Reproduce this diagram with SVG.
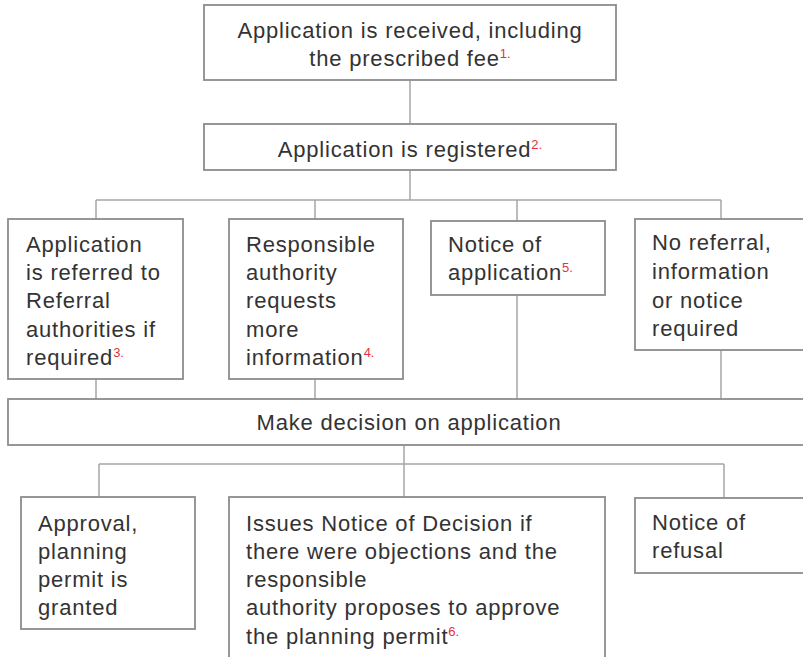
<svg xmlns="http://www.w3.org/2000/svg" width="803" height="657" viewBox="0 0 803 657">
<style>
.box{fill:#fff;stroke:#8c8c8c;stroke-width:1.8}
.ln{fill:none;stroke:#a6a6a6;stroke-width:1.5}
text{font-family:"Liberation Sans","DejaVu Sans",sans-serif;font-size:22px;letter-spacing:0.8px;fill:#333}
.c{text-anchor:middle}
.sup{font-size:13px;letter-spacing:0;fill:#e8303a}
</style>
<rect width="803" height="657" fill="#fff"/>
<g id="connectors">
<path class="ln" d="M410 80V124M410 170V200M96 200H721M96 200V219M315 200V219M517 200V221M721 200V219"/>
<path class="ln" d="M96 379V399M315 379V399M517 295V399M721 350V399"/>
<path class="ln" d="M404 445V464M99 464H724M99 464V497M404 464V497M724 464V498"/>
</g>
<g id="n1"><rect class="box" x="204" y="5" width="412" height="75"/>
<text class="c" x="410" y="38">Application is received, including</text>
<text class="c" x="410" y="66">the prescribed fee<tspan class="sup" dy="-8">1.</tspan></text></g>
<g id="n2"><rect class="box" x="204" y="124" width="412" height="46"/>
<text class="c" x="410" y="157">Application is registered<tspan class="sup" dy="-8">2.</tspan></text></g>
<g id="n3"><rect class="box" x="8" y="219" width="175" height="160"/>
<text x="26" y="252">Application</text><text x="26" y="280">is referred to</text><text x="26" y="308">Referral</text><text x="26" y="337">authorities if</text><text x="26" y="365">required<tspan class="sup" dy="-8">3.</tspan></text></g>
<g id="n4"><rect class="box" x="229" y="219" width="174" height="160"/>
<text x="246" y="252">Responsible</text><text x="246" y="280">authority</text><text x="246" y="308">requests</text><text x="246" y="337">more</text><text x="246" y="365">information<tspan class="sup" dy="-8">4.</tspan></text></g>
<g id="n5"><rect class="box" x="431" y="221" width="174" height="74"/>
<text x="448" y="252">Notice of</text><text x="448" y="280">application<tspan class="sup" dy="-8">5.</tspan></text></g>
<g id="n6"><rect class="box" x="635" y="219" width="180" height="131"/>
<text x="652" y="250">No referral,</text><text x="652" y="279">information</text><text x="652" y="308">or notice</text><text x="652" y="336">required</text></g>
<g id="n7"><rect class="box" x="8" y="399" width="807" height="46"/>
<text class="c" x="409" y="430">Make decision on application</text></g>
<g id="n8"><rect class="box" x="21" y="497" width="174" height="132"/>
<text x="38" y="531">Approval,</text><text x="38" y="559">planning</text><text x="38" y="587">permit is</text><text x="38" y="615">granted</text></g>
<g id="n9"><rect class="box" x="229" y="497" width="376" height="180"/>
<text x="246" y="531">Issues Notice of Decision if</text><text x="246" y="559">there were objections and the</text><text x="246" y="587">responsible</text><text x="246" y="615">authority proposes to approve</text><text x="246" y="644">the planning permit<tspan class="sup" dy="-8">6.</tspan></text></g>
<g id="n10"><rect class="box" x="635" y="498" width="180" height="75"/>
<text x="652" y="530">Notice of</text><text x="652" y="558">refusal</text></g>
</svg>
